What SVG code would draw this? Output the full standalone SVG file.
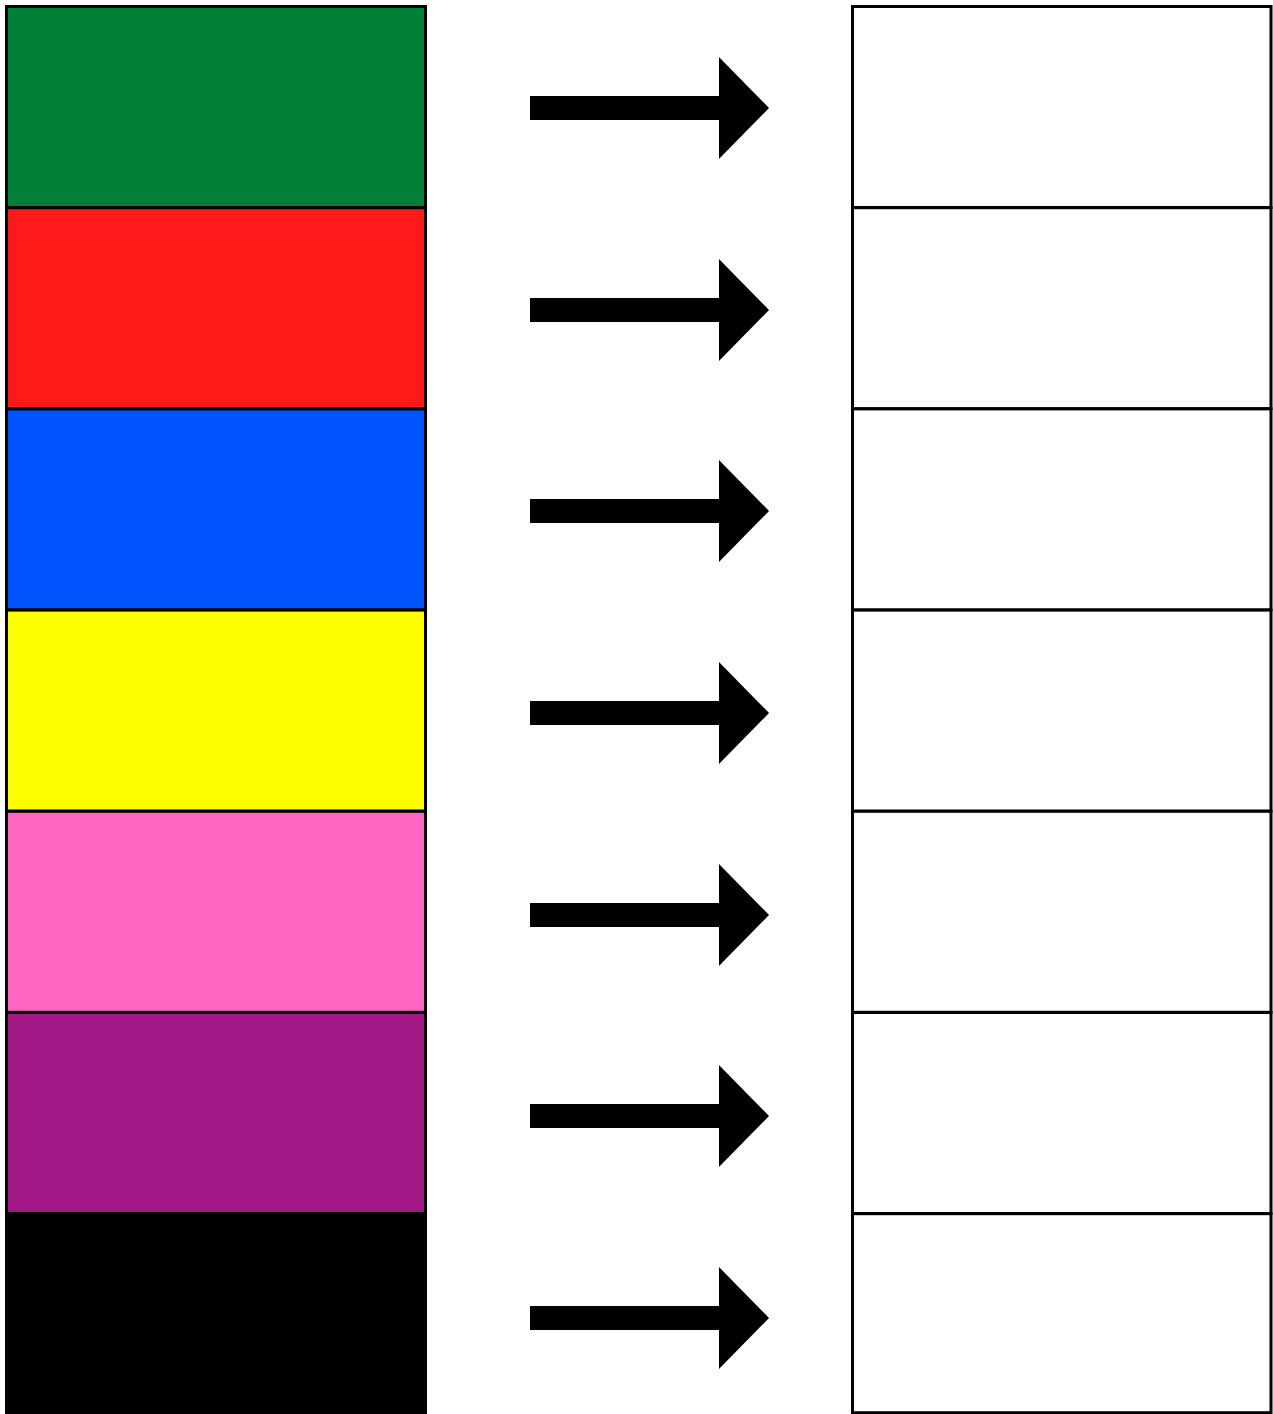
<svg xmlns="http://www.w3.org/2000/svg" width="1273" height="1414" viewBox="0 0 1273 1414">
<style>
.src{stroke:#000;stroke-width:3}
.dst{fill:#fff;stroke:#000;stroke-width:3}
.arr{fill:#000}
</style>
<defs>
<path id="arrow" d="M530,-12 H719 V-51 L769,0 L719,51 V12 H530 Z"/>
</defs>
<rect width="1273" height="1414" fill="#fff"/>
<g id="source-boxes">
<g id="src-green"><rect class="src" x="6.5" y="6.5" width="419" height="201" fill="#008037"/></g>
<g id="src-red"><rect class="src" x="6.5" y="207.7" width="419" height="201" fill="#ff1a1a"/></g>
<g id="src-blue"><rect class="src" x="6.5" y="408.9" width="419" height="201" fill="#0055ff"/></g>
<g id="src-yellow"><rect class="src" x="6.5" y="610.1" width="419" height="201" fill="#ffff00"/></g>
<g id="src-pink"><rect class="src" x="6.5" y="811.3" width="419" height="201" fill="#ff66c4"/></g>
<g id="src-purple"><rect class="src" x="6.5" y="1012.5" width="419" height="201" fill="#a21886"/></g>
<g id="src-black"><rect class="src" x="6.5" y="1213.7" width="419" height="202" fill="#000"/></g>
</g>
<g id="target-boxes">
<g id="dst-1"><rect class="dst" x="852.5" y="6.5" width="418.5" height="201"/></g>
<g id="dst-2"><rect class="dst" x="852.5" y="207.7" width="418.5" height="201"/></g>
<g id="dst-3"><rect class="dst" x="852.5" y="408.9" width="418.5" height="201"/></g>
<g id="dst-4"><rect class="dst" x="852.5" y="610.1" width="418.5" height="201"/></g>
<g id="dst-5"><rect class="dst" x="852.5" y="811.3" width="418.5" height="201"/></g>
<g id="dst-6"><rect class="dst" x="852.5" y="1012.5" width="418.5" height="201"/></g>
<g id="dst-7"><rect class="dst" x="852.5" y="1213.7" width="418.5" height="199"/></g>
</g>
<g id="connectors">
<use href="#arrow" class="arr" y="108"/>
<use href="#arrow" class="arr" y="310"/>
<use href="#arrow" class="arr" y="511"/>
<use href="#arrow" class="arr" y="713"/>
<use href="#arrow" class="arr" y="915"/>
<use href="#arrow" class="arr" y="1116"/>
<use href="#arrow" class="arr" y="1318"/>
</g>
</svg>
